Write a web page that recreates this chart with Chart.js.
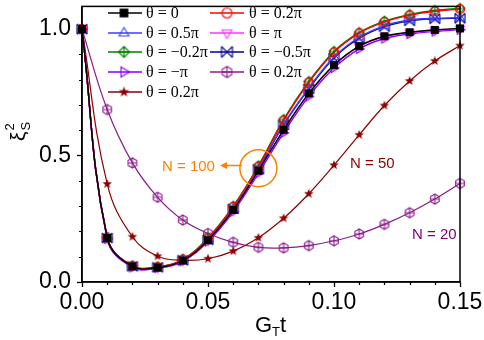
<!DOCTYPE html>
<html>
<head>
<meta charset="utf-8">
<script src="https://cdn.jsdelivr.net/npm/chart.js@4"></script>
<style>
  html, body { margin: 0; padding: 0; background: #fff; }
  #wrap { width: 484px; height: 340px; position: relative; }
</style>
</head>
<body>
<div id="wrap"><canvas id="chart"></canvas></div>
<script>
// G_T t sample points
const times = [0, 0.01, 0.02, 0.03, 0.04, 0.05, 0.06, 0.07, 0.08, 0.09, 0.10, 0.11, 0.12, 0.13, 0.14, 0.15];
const xTicks = [0, 0.05, 0.10, 0.15];
const yTicks = [0, 0.5, 1.0];

// N = 100, various theta
const n100Theta0      = [1.0, 0.174, 0.062, 0.057, 0.085, 0.165, 0.285, 0.440, 0.602, 0.746, 0.858, 0.933, 0.972, 0.988, 0.997, 1.003];
const n100Theta02pi   = [1.0, 0.176, 0.064, 0.060, 0.089, 0.173, 0.297, 0.456, 0.638, 0.789, 0.908, 0.984, 1.029, 1.055, 1.071, 1.079];
const n100Theta05pi   = [1.0, 0.175, 0.063, 0.058, 0.087, 0.168, 0.290, 0.448, 0.624, 0.767, 0.890, 0.968, 1.013, 1.036, 1.043, 1.045];
const n100ThetaPi     = [1.0, 0.173, 0.061, 0.056, 0.084, 0.164, 0.284, 0.438, 0.600, 0.744, 0.856, 0.931, 0.970, 0.986, 0.995, 1.001];
const n100ThetaM02pi  = [1.0, 0.176, 0.064, 0.060, 0.090, 0.175, 0.300, 0.460, 0.643, 0.793, 0.912, 0.987, 1.032, 1.058, 1.074, 1.082];
const n100ThetaM05pi  = [1.0, 0.174, 0.062, 0.058, 0.086, 0.167, 0.289, 0.446, 0.621, 0.764, 0.886, 0.964, 1.010, 1.033, 1.041, 1.043];
const n100ThetaMPi    = [1.0, 0.170, 0.058, 0.055, 0.082, 0.160, 0.278, 0.430, 0.590, 0.734, 0.846, 0.922, 0.963, 0.981, 0.991, 0.998];
// N = 20 and N = 50, theta = 0.2 pi
const n20Theta02pi    = [1.0, 0.682, 0.471, 0.335, 0.245, 0.192, 0.157, 0.137, 0.135, 0.144, 0.163, 0.190, 0.228, 0.274, 0.328, 0.390];
const n50Theta02pi    = [1.0, 0.388, 0.179, 0.102, 0.086, 0.092, 0.122, 0.175, 0.252, 0.349, 0.462, 0.582, 0.698, 0.795, 0.874, 0.935];

const seriesLabels = ['θ = 0', 'θ = 0.2π', 'θ = 0.5π', 'θ = π', 'θ = −0.2π', 'θ = −0.5π', 'θ = −π', 'θ = 0.2π', 'θ = 0.2π'];

function poly(g, pts) {
    g.moveTo(pts[0][0], pts[0][1]);
    for (let i = 1; i < pts.length; i++) g.lineTo(pts[i][0], pts[i][1]);
    g.closePath();
}

// little canvases used as point styles (and reused in the legend)
function makeMarker(kind, color, r) {
    const s = Math.ceil(r * 2 + 4);
    const c = document.createElement('canvas');
    c.width = s; c.height = s;
    const g = c.getContext('2d');
    g.translate(s / 2, s / 2);
    g.strokeStyle = color;
    g.fillStyle = color;
    g.lineWidth = 1.1;
    g.beginPath();
    if (kind === 'square') {
        g.rect(-r * 0.8, -r * 0.8, r * 1.6, r * 1.6);
        g.fill();
    } else if (kind === 'circle') {
        g.arc(0, 0, r * 0.9, 0, Math.PI * 2);
        g.stroke();
    } else if (kind === 'triUp') {
        poly(g, [[0, -r], [r * 0.9, r * 0.55], [-r * 0.9, r * 0.55]]);
        g.stroke();
    } else if (kind === 'triDown') {
        poly(g, [[0, r], [r * 0.9, -r * 0.55], [-r * 0.9, -r * 0.55]]);
        g.stroke();
    } else if (kind === 'triRight') {
        poly(g, [[r, 0], [-r * 0.55, -r * 0.9], [-r * 0.55, r * 0.9]]);
        g.stroke();
    } else if (kind === 'diamondPlus') {
        poly(g, [[0, -r], [r, 0], [0, r], [-r, 0]]);
        g.moveTo(0, -r); g.lineTo(0, r);
        g.moveTo(-r, 0); g.lineTo(r, 0);
        g.stroke();
    } else if (kind === 'xcross') {
        g.moveTo(-r, -r); g.lineTo(r, r);
        g.moveTo(r, -r); g.lineTo(-r, r);
        g.moveTo(-r, -r); g.lineTo(-r, r);
        g.moveTo(r, -r); g.lineTo(r, r);
        g.stroke();
    } else if (kind === 'hexPlus') {
        const pts = [];
        for (let k = 0; k < 6; k++) {
            const a = -Math.PI / 2 + k * Math.PI / 3;
            pts.push([Math.cos(a) * r, Math.sin(a) * r]);
        }
        poly(g, pts);
        g.moveTo(0, -r); g.lineTo(0, r);
        g.moveTo(-r * 0.87, 0); g.lineTo(r * 0.87, 0);
        g.stroke();
    } else if (kind === 'star') {
        const pts = [];
        for (let k = 0; k < 10; k++) {
            const a = -Math.PI / 2 + k * Math.PI / 5;
            const rr = k % 2 === 0 ? r : r * 0.42;
            pts.push([Math.cos(a) * rr, Math.sin(a) * rr]);
        }
        poly(g, pts);
        g.fill();
    }
    return c;
}

const styles = [
    { color: '#000000', kind: 'square' },
    { color: '#ff0000', kind: 'circle' },
    { color: '#3c3cff', kind: 'triUp' },
    { color: '#ff33ff', kind: 'triDown' },
    { color: '#008000', kind: 'diamondPlus' },
    { color: '#000090', kind: 'xcross' },
    { color: '#8000ff', kind: 'triRight' },
    { color: '#8b1a8b', kind: 'hexPlus' },
    { color: '#8b0000', kind: 'star' }
];
const seriesData = [n100Theta0, n100Theta02pi, n100Theta05pi, n100ThetaPi, n100ThetaM02pi, n100ThetaM05pi, n100ThetaMPi, n20Theta02pi, n50Theta02pi];

const markers = styles.map(s => makeMarker(s.kind, s.color, 5));
const legendMarkers = styles.map(s => makeMarker(s.kind, s.color, 5.5));

const datasets = seriesData.map((d, i) => ({
    label: seriesLabels[i],
    data: times.map((t, j) => ({ x: t, y: d[j] })),
    borderColor: styles[i].color,
    backgroundColor: styles[i].color,
    borderWidth: i < 7 ? 1.4 : 1.2,
    pointStyle: markers[i],
    pointRadius: 5,
    pointHoverRadius: 5,
    tension: 0.4,
    fill: false,
    clip: false
}));

const decorPlugin = {
    id: 'decor',
    afterDraw(chart) {
        const { ctx, chartArea: a, scales: { x, y } } = chart;
        ctx.save();
        // frame
        ctx.strokeStyle = '#000';
        ctx.lineWidth = 1.5;
        ctx.strokeRect(a.left, a.top, a.right - a.left, a.bottom - a.top);
        // minor ticks
        ctx.lineWidth = 1.2;
        ctx.beginPath();
        for (let k = 1; k < 15; k++) {
            if (k % 5 === 0) continue;
            const px = Math.round(x.getPixelForValue(k / 100)) + 0.5;
            ctx.moveTo(px, a.bottom);
            ctx.lineTo(px, a.bottom + 3);
        }
        for (let k = 1; k < 10; k++) {
            if (k % 5 === 0) continue;
            const py = Math.round(y.getPixelForValue(k / 10)) + 0.5;
            ctx.moveTo(a.left, py);
            ctx.lineTo(a.left - 3, py);
        }
        ctx.stroke();

        // axis titles
        ctx.fillStyle = '#000';
        ctx.textBaseline = 'alphabetic';
        ctx.textAlign = 'left';
        ctx.font = '22px "Liberation Sans", Arial, sans-serif';
        const gx = 255, gy = 332;
        ctx.fillText('G', gx, gy);
        const gw = ctx.measureText('G').width;
        ctx.font = '13px "Liberation Sans", Arial, sans-serif';
        ctx.fillText('T', gx + gw, gy + 4);
        const tw = ctx.measureText('T').width;
        ctx.font = '22px "Liberation Sans", Arial, sans-serif';
        ctx.fillText('t', gx + gw + tw, gy);

        ctx.save();
        ctx.translate(25, 141);
        ctx.rotate(-Math.PI / 2);
        ctx.font = '21px "Liberation Sans", Arial, sans-serif';
        ctx.fillText('ξ', 0, 0);
        const xw = ctx.measureText('ξ').width;
        ctx.font = '13px "Liberation Sans", Arial, sans-serif';
        ctx.fillText('2', xw + 1, -11);
        ctx.fillText('S', xw + 1, 5);
        ctx.restore();

        // legend, two columns
        const rowY = [13, 33, 52, 72, 92];
        const cols = [{ x0: 108, x1: 142, m: 124, t: 146 }, { x0: 210, x1: 244, m: 227, t: 249 }];
        ctx.font = '16px "Liberation Serif", "Times New Roman", serif';
        ctx.textBaseline = 'middle';
        for (let i = 0; i < seriesLabels.length; i++) {
            const col = cols[i % 2];
            const yy = rowY[Math.floor(i / 2)];
            ctx.strokeStyle = styles[i].color;
            ctx.lineWidth = 1.5;
            ctx.beginPath();
            ctx.moveTo(col.x0, yy);
            ctx.lineTo(col.x1, yy);
            ctx.stroke();
            const mk = legendMarkers[i];
            ctx.drawImage(mk, col.m - mk.width / 2, yy - mk.height / 2);
            ctx.fillStyle = '#000';
            ctx.fillText(seriesLabels[i], col.t, yy + 1);
        }

        // annotations
        ctx.font = '15px "Liberation Sans", Arial, sans-serif';
        ctx.textBaseline = 'alphabetic';
        ctx.fillStyle = '#ff8000';
        ctx.strokeStyle = '#ff8000';
        ctx.fillText('N = 100', 162, 171);
        ctx.lineWidth = 1.5;
        ctx.beginPath();
        ctx.arc(x.getPixelForValue(0.07), y.getPixelForValue(0.45), 18.5, 0, Math.PI * 2);
        ctx.stroke();
        ctx.beginPath();
        ctx.moveTo(242, 165.5);
        ctx.lineTo(225, 165.5);
        ctx.stroke();
        ctx.beginPath();
        ctx.moveTo(220, 165.5);
        ctx.lineTo(227, 162);
        ctx.lineTo(227, 169);
        ctx.closePath();
        ctx.fill();

        ctx.fillStyle = '#8b0000';
        ctx.fillText('N = 50', 350, 168);
        ctx.fillStyle = '#800080';
        ctx.fillText('N = 20', 412, 239);
        ctx.restore();
    }
};

const tickFont = { family: '"Liberation Sans", Arial, sans-serif', size: 23 };

new Chart(document.getElementById('chart').getContext('2d'), {
    type: 'line',
    data: { datasets: datasets },
    options: {
        responsive: true,
        maintainAspectRatio: false,
        animation: false,
        events: [],
        layout: { padding: { top: 2, right: 24, left: 0, bottom: 0 } },
        plugins: { legend: { display: false }, tooltip: { enabled: false } },
        scales: {
            x: {
                type: 'linear',
                min: 0,
                max: 0.15,
                afterBuildTicks: s => { s.ticks = xTicks.map(v => ({ value: v })); },
                afterFit: s => { s.height = 58; s.paddingLeft = 0; s.paddingRight = 0; },
                ticks: {
                    font: tickFont,
                    color: '#000',
                    padding: 2,
                    maxRotation: 0,
                    callback: v => v.toFixed(2)
                },
                grid: { drawOnChartArea: false, tickLength: 5, color: '#000', tickWidth: 1.3 },
                border: { color: '#000', width: 1.5 }
            },
            y: {
                min: 0,
                max: 1.09,
                afterBuildTicks: s => { s.ticks = yTicks.map(v => ({ value: v })); },
                afterFit: s => { s.width = 82; s.paddingTop = 0; s.paddingBottom = 0; },
                ticks: {
                    font: tickFont,
                    color: '#000',
                    padding: 6,
                    callback: v => v.toFixed(1)
                },
                grid: { drawOnChartArea: false, tickLength: 5, color: '#000', tickWidth: 1.3 },
                border: { color: '#000', width: 1.5 }
            }
        }
    },
    plugins: [decorPlugin]
});
</script>
</body>
</html>
